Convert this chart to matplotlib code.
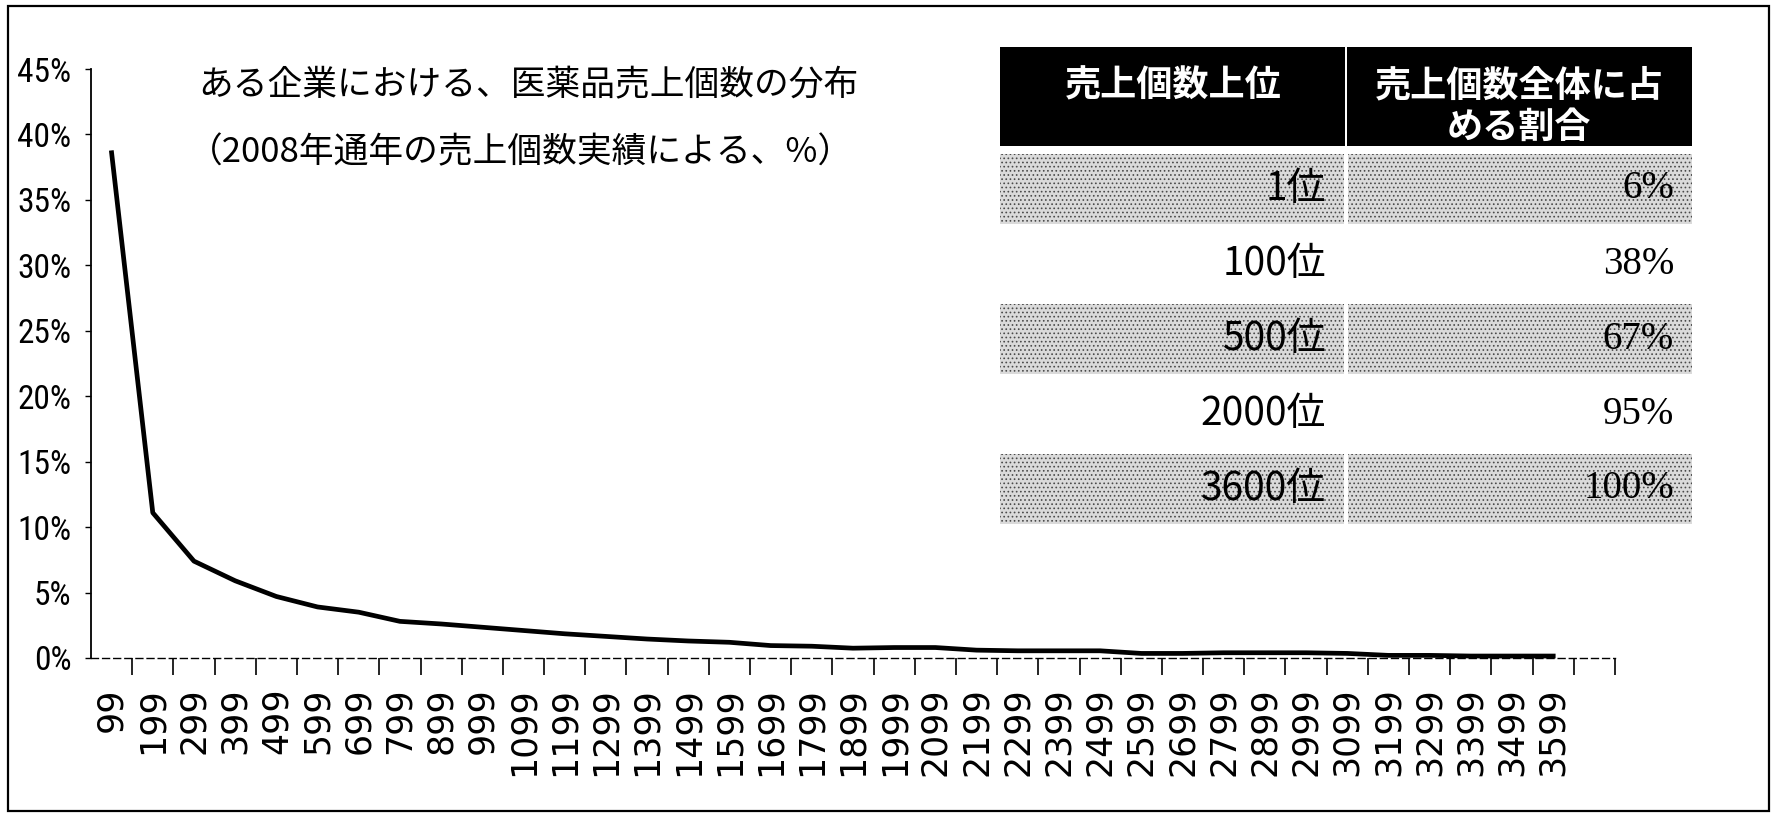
import numpy as np
import matplotlib
matplotlib.use('Agg')
import matplotlib.pyplot as plt
from matplotlib.patches import Rectangle

# share of total units sold per block of 100 ranks (%)
rank_labels = ['99', '199', '299', '399', '499', '599', '699', '799', '899', '999',
               '1099', '1199', '1299', '1399', '1499', '1599', '1699', '1799', '1899', '1999',
               '2099', '2199', '2299', '2399', '2499', '2599', '2699', '2799', '2899', '2999',
               '3099', '3199', '3299', '3399', '3499', '3599', '']
share = [38.6, 11.1, 7.4, 5.9, 4.7, 3.9, 3.5, 2.8, 2.6, 2.35,
         2.1, 1.85, 1.65, 1.45, 1.3, 1.2, 0.95, 0.9, 0.75, 0.8,
         0.8, 0.6, 0.55, 0.55, 0.55, 0.35, 0.35, 0.4, 0.4, 0.4,
         0.35, 0.2, 0.2, 0.15, 0.15, 0.15]
y_ticks = [0, 5, 10, 15, 20, 25, 30, 35, 40, 45]

# summary table
tbl_rank = ['1位', '100位', '500位', '2000位', '3600位']
tbl_share = ['6%', '38%', '67%', '95%', '100%']

jp = ['Noto Sans CJK JP', 'DejaVu Sans']
narrow = ['Liberation Sans Narrow', 'Roboto Condensed', 'Liberation Sans']

W, H = 1775, 816
fig = plt.figure(figsize=(W / 100, H / 100), dpi=100)
fig.patch.set_facecolor('white')


def fx(px):
    return px / W


def fy(py):
    return 1 - py / H


ax = fig.add_axes([fx(91), fy(658), fx(1615) - fx(91), fy(69) - fy(658)])
x = np.arange(len(share))
ax.plot(x, share, color='black', lw=3.4, solid_joinstyle='round', clip_on=False)
ax.set_xlim(-0.5, len(rank_labels) - 0.5)
ax.set_ylim(0, 45)

ax.set_yticks(y_ticks, [f'{v}%' for v in y_ticks])
ax.set_xticks(np.arange(len(rank_labels)), rank_labels, rotation=90)
ax.set_xticks(np.arange(0.5, len(rank_labels)), minor=True)

for lab in ax.get_yticklabels():
    lab.set_family(narrow)
    lab.set_fontsize(24)
    lab.set_va('center_baseline')
for lab in ax.get_xticklabels():
    lab.set_family('DejaVu Sans')
    lab.set_fontsize(25)
    lab.set_va('top')

ax.tick_params(axis='x', which='major', length=0, pad=21)
ax.tick_params(axis='x', which='minor', length=12, width=1.2, direction='out')
ax.tick_params(axis='y', length=4, width=1, direction='out', pad=10)

for s in ['top', 'right']:
    ax.spines[s].set_visible(False)
ax.spines['left'].set_linewidth(1.3)
ax.spines['bottom'].set_linewidth(1.0)
ax.spines['bottom'].set_linestyle((0, (5, 3)))

# titles
fig.text(fx(198), fy(86), 'ある企業における、医薬品売上個数の分布',
         family=jp, fontsize=25, va='center', ha='left')
fig.text(fx(188), fy(153), '（2008年通年の売上個数実績による、%）',
         family=jp, fontsize=25, va='center', ha='left')

# table
plt.rcParams['hatch.linewidth'] = 0.7
tl, tm, tr = 1000, 1346, 1692


def frect(x0, y0, x1, y1, **kw):
    r = Rectangle((fx(x0), fy(y1)), fx(x1) - fx(x0), fy(y0) - fy(y1),
                  transform=fig.transFigure, **kw)
    fig.add_artist(r)


frect(tl, 47, tr, 146, facecolor='black', lw=0)
frect(tm - 1, 47, tm + 1, 146, facecolor='white', lw=0)
fig.text(fx((tl + tm) / 2), fy(86), '売上個数上位', family=jp, fontsize=26,
         weight='bold', color='white', ha='center', va='center')
fig.text(fx((tm + tr) / 2), fy(86), '売上個数全体に占', family=jp, fontsize=26,
         weight='bold', color='white', ha='center', va='center')
fig.text(fx((tm + tr) / 2), fy(127), 'める割合', family=jp, fontsize=26,
         weight='bold', color='white', ha='center', va='center')

for i, (rk, sh) in enumerate(zip(tbl_rank, tbl_share)):
    top = 151 + 75 * i
    if i % 2 == 0:
        frect(tl, top + 3, tm - 2, top + 73, facecolor='#dadada',
              edgecolor='#4a4a4a', hatch='....', lw=0)
        frect(tm + 2, top + 3, tr, top + 73, facecolor='#dadada',
              edgecolor='#4a4a4a', hatch='....', lw=0)
    yc = 189 + 75 * i
    fig.text(fx(1326), fy(yc), rk, family=jp, fontsize=28,
             ha='right', va='center')
    fig.text(fx(1674), fy(yc), sh, family=['Liberation Serif', 'DejaVu Serif'],
             fontsize=28, ha='right', va='center')

# frame round the whole picture
frect(8, 6, 1769, 811, fill=False, edgecolor='black', lw=1.6)

fig.savefig('out.png', dpi=100)
